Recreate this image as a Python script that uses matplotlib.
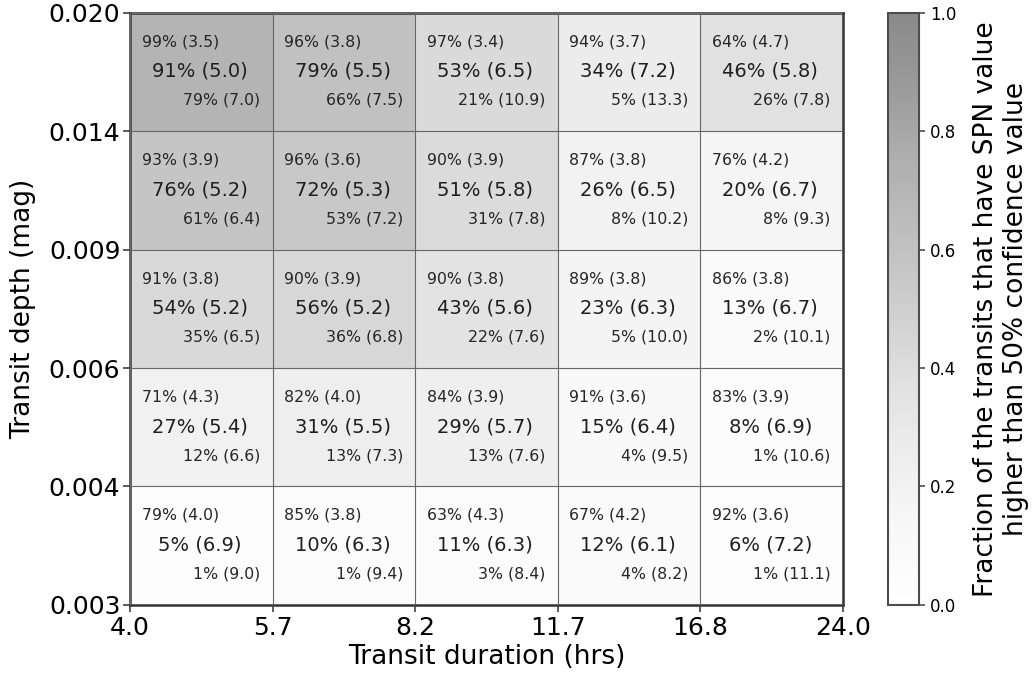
import matplotlib

matplotlib.use("Agg")
import matplotlib.pyplot as plt
import numpy as np
from matplotlib.colors import ListedColormap

# rows ordered from bottom (shallow) to top (deep)
duration_labels = ["4.0", "5.7", "8.2", "11.7", "16.8", "24.0"]
depth_labels = ["0.003", "0.004", "0.006", "0.009", "0.014", "0.020"]

# fraction (%) and mean SPN value for the three confidence levels
upper_pct = [
    [79, 85, 63, 67, 92],
    [71, 82, 84, 91, 83],
    [91, 90, 90, 89, 86],
    [93, 96, 90, 87, 76],
    [99, 96, 97, 94, 64],
]
upper_val = [
    [4.0, 3.8, 4.3, 4.2, 3.6],
    [4.3, 4.0, 3.9, 3.6, 3.9],
    [3.8, 3.9, 3.8, 3.8, 3.8],
    [3.9, 3.6, 3.9, 3.8, 4.2],
    [3.5, 3.8, 3.4, 3.7, 4.7],
]
mid_pct = [
    [5, 10, 11, 12, 6],
    [27, 31, 29, 15, 8],
    [54, 56, 43, 23, 13],
    [76, 72, 51, 26, 20],
    [91, 79, 53, 34, 46],
]
mid_val = [
    [6.9, 6.3, 6.3, 6.1, 7.2],
    [5.4, 5.5, 5.7, 6.4, 6.9],
    [5.2, 5.2, 5.6, 6.3, 6.7],
    [5.2, 5.3, 5.8, 6.5, 6.7],
    [5.0, 5.5, 6.5, 7.2, 5.8],
]
lower_pct = [
    [1, 1, 3, 4, 1],
    [12, 13, 13, 4, 1],
    [35, 36, 22, 5, 2],
    [61, 53, 31, 8, 8],
    [79, 66, 21, 5, 26],
]
lower_val = [
    [9.0, 9.4, 8.4, 8.2, 11.1],
    [6.6, 7.3, 7.6, 9.5, 10.6],
    [6.5, 6.8, 7.6, 10.0, 10.1],
    [6.4, 7.2, 7.8, 10.2, 9.3],
    [7.0, 7.5, 10.9, 13.3, 7.8],
]

frac = np.array(mid_pct) / 100.0
nrows, ncols = frac.shape


def faded_greys(alpha):
    base = plt.get_cmap("Greys")(np.linspace(0, 1, 256))
    base[:, :3] = 1 - alpha * (1 - base[:, :3])
    return ListedColormap(base)


fig = plt.figure(figsize=(10.33, 6.75), dpi=100)
ax = fig.add_axes([0.126, 0.104, 0.690, 0.877])
cax = fig.add_axes([0.860, 0.104, 0.030, 0.877])

ax.pcolormesh(
    np.arange(ncols + 1),
    np.arange(nrows + 1),
    frac,
    cmap=faded_greys(0.33),
    vmin=0,
    vmax=1,
)

for i in range(nrows):
    for j in range(ncols):
        ax.text(j + 0.08, i + 0.755, f"{upper_pct[i][j]}% ({upper_val[i][j]:.1f})",
                ha="left", va="center", fontsize=11.3, color="0.15")
        ax.text(j + 0.49, i + 0.505, f"{mid_pct[i][j]}% ({mid_val[i][j]:.1f})",
                ha="center", va="center", fontsize=14, color="0.12")
        ax.text(j + 0.915, i + 0.26, f"{lower_pct[i][j]}% ({lower_val[i][j]:.1f})",
                ha="right", va="center", fontsize=11.3, color="0.15")

ax.set_xlim(0, ncols)
ax.set_ylim(0, nrows)
ax.set_xticks(np.arange(ncols + 1))
ax.set_xticklabels(duration_labels)
ax.set_yticks(np.arange(nrows + 1))
ax.set_yticklabels(depth_labels)
ax.grid(True, color="0.4", linewidth=0.8)
ax.set_axisbelow(False)
ax.tick_params(axis="y", labelsize=18, length=5, width=1.2, color="0.25", pad=2)
ax.tick_params(axis="x", labelsize=18, length=5, width=1.2, color="0.25", pad=3)
for spine in ax.spines.values():
    spine.set_color("0.2")
    spine.set_linewidth(1.8)
ax.set_xlabel("Transit duration (hrs)", fontsize=19, labelpad=3)
ax.set_ylabel("Transit depth (mag)", fontsize=19, labelpad=9)

sm = plt.cm.ScalarMappable(cmap=faded_greys(0.46), norm=plt.Normalize(0, 1))
cbar = fig.colorbar(sm, cax=cax)
cbar.set_ticks(np.linspace(0, 1, 6))
cbar.ax.tick_params(labelsize=12, length=4, width=1.2, color="0.3")
cbar.outline.set_edgecolor("0.3")
cbar.outline.set_linewidth(1.5)
cbar.set_label("Fraction of the transits that have SPN value\nhigher than 50% confidence value",
               fontsize=19, labelpad=12)

fig.savefig("out.png", dpi=100)
